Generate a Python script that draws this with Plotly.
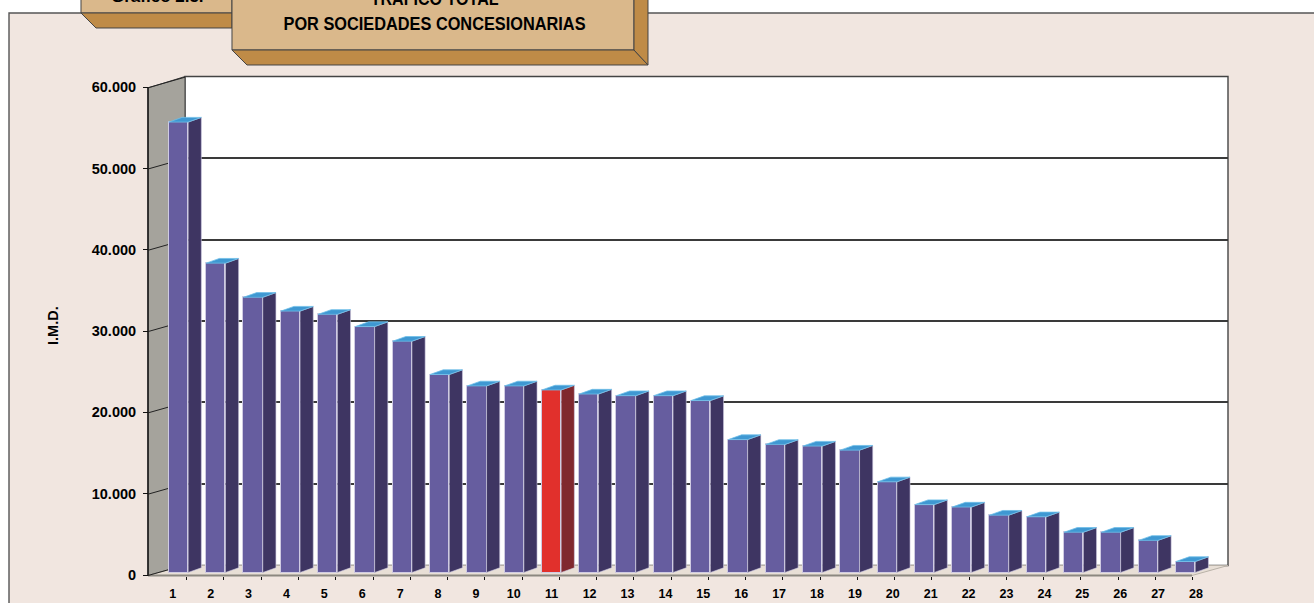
import plotly.graph_objects as go

categories = list(range(1, 29))
values = [55400, 38050, 33850, 32150, 31750, 30250, 28450, 24350, 22950, 22950,
          22450, 21950, 21750, 21750, 21150, 16350, 15750, 15550, 15050, 11150,
          8350, 8050, 7050, 6850, 4950, 4950, 3950, 1350]
highlight = 11
y_ticks = [0, 10000, 20000, 30000, 40000, 50000, 60000]
y_labels = ["0", "10.000", "20.000", "30.000", "40.000", "50.000", "60.000"]
grid_ticks = [10000, 20000, 30000, 40000, 50000]

W, H = 1314, 603
PXK = 8.13 / 1000          # px per unit
BAR_STEP = 37.3
FONT = "Liberation Sans"


def xp(px):
    return px / W


def yp(py):
    return 1 - py / H


def yrange(zero_px):
    return [-(H - zero_px) / PXK, zero_px / PXK]


def xrange_for(first_px, step):
    return [1 - first_px / step, 1 + (W - first_px) / step]


dx = 13.2 / BAR_STEP
dy = 4.7 / PXK
half = 0.5 * 19.3 / BAR_STEP

side_x, side_y, red_x, red_y, top_x, top_y = [], [], [], [], [], []
for c, v in zip(categories, values):
    r = c + half
    l = c - half
    sx = [r, r + dx, r + dx, r, r, None]
    sy = [0, dy, v + dy, v, 0, None]
    if c == highlight:
        red_x += sx
        red_y += sy
    else:
        side_x += sx
        side_y += sy
    top_x += [l, l + dx, r + dx, r, l, None]
    top_y += [v, v + dy, v + dy, v, v, None]

fig = go.Figure()
fig.add_trace(go.Scatter(x=[1], y=[0], mode="markers", marker=dict(opacity=0), xaxis="x", yaxis="y",
                         hoverinfo="skip", showlegend=False))
fig.add_trace(go.Bar(x=categories, y=values, width=2 * half, xaxis="x2", yaxis="y2",
                     marker=dict(color=["#E1302C" if c == highlight else "#665D9F" for c in categories],
                                 line=dict(color="#CFCBE2", width=1)),
                     showlegend=False))
fig.add_trace(go.Scatter(x=side_x, y=side_y, mode="lines", fill="toself", fillcolor="#3E3562",
                         line=dict(color="#CFCBE2", width=0.6), xaxis="x2", yaxis="y2", showlegend=False))
fig.add_trace(go.Scatter(x=red_x, y=red_y, mode="lines", fill="toself", fillcolor="#80282E",
                         line=dict(color="#CFCBE2", width=0.6), xaxis="x2", yaxis="y2", showlegend=False))
fig.add_trace(go.Scatter(x=top_x, y=top_y, mode="lines", fill="toself", fillcolor="#3F98D2",
                         line=dict(color="#6FBFE8", width=0.8), xaxis="x2", yaxis="y2", showlegend=False))
fig.add_trace(go.Scatter(x=[1], y=[0], mode="markers", marker=dict(opacity=0), xaxis="x3", yaxis="y3",
                         hoverinfo="skip", showlegend=False))
fig.add_trace(go.Scatter(x=[1], y=[0], mode="markers", marker=dict(opacity=0), xaxis="x4", yaxis="y3",
                         hoverinfo="skip", showlegend=False))

shapes = []


def poly(points, fill, line=None, width=1, layer="below"):
    path = "M " + " L ".join(f"{xp(a):.5f},{yp(b):.5f}" for a, b in points) + " Z"
    shapes.append(dict(type="path", path=path, xref="paper", yref="paper", fillcolor=fill, layer=layer,
                       line=dict(color=line or fill, width=width if line else 0)))


def seg(x0, y0, x1, y1, color="#333333", width=1.2, layer="below"):
    shapes.append(dict(type="line", x0=xp(x0), y0=yp(y0), x1=xp(x1), y1=yp(y1), xref="paper", yref="paper",
                       line=dict(color=color, width=width), layer=layer))


poly([(9, 13), (W + 5, 13), (W + 5, H + 5), (9, H + 5)], "#F1E6E0", "#555555", 1.4)
poly([(185, 76.5), (1228, 76.5), (1228, 565.5), (185, 565.5)], "#FFFFFF", "#444444", 1.4)
poly([(148, 88), (185, 76.5), (185, 565.5), (148, 575.5)], "#A5A39C", "#444444", 1)
poly([(148, 575.5), (185, 565.5), (1228, 565.5), (1192, 575.5)], "#E8DFD6", "#B9B2A8", 1)
seg(148, 575.5, 1192, 575.5, "#8C8880", 2)
seg(148, 88, 148, 575.5, "#111111", 1.4)
for t in y_ticks:
    ty = 575.5 - t * PXK
    seg(148, ty, 185, ty - 10.5, "#222222", 1)
poly([(81, -5), (232, -5), (232, 13), (81, 13)], "#DAB88B", "#444444", 1)
poly([(81, 13), (232, 13), (232, 28), (96, 28)], "#BF8B47", "#444444", 1)
poly([(232, -5), (634, -5), (634, 50), (232, 50)], "#DAB88B", "#444444", 1)
poly([(232, 50), (634, 50), (648, 65), (247, 65)], "#BF8B47", "#444444", 1)
poly([(634, -5), (648, -5), (648, 65), (634, 50)], "#BF8B47", "#444444", 1)

layout = dict(
    width=W, height=H, margin=dict(l=0, r=0, t=0, b=0), autosize=False,
    paper_bgcolor="white", plot_bgcolor="rgba(0,0,0,0)", showlegend=False,
    shapes=shapes, bargap=0,
    xaxis=dict(domain=[xp(185), xp(1228)], range=[0, 1], visible=True, showline=False, zeroline=False,
               showticklabels=False, ticks="", showgrid=False),
    yaxis=dict(domain=[0, 1], anchor="x", range=yrange(564.8), tickvals=grid_ticks, showgrid=True,
               gridcolor="#3A3A3A", gridwidth=1.6, showticklabels=False, ticks="", zeroline=False, showline=False),
    xaxis2=dict(domain=[0, 1], anchor="y2", range=xrange_for(178.5, BAR_STEP), visible=False),
    yaxis2=dict(domain=[0, 1], anchor="x2", range=yrange(572.5), visible=False),
    xaxis3=dict(domain=[0, 1], anchor="free", position=yp(584), overlaying="x2", range=xrange_for(172.7, 37.9),
                tickvals=categories, ticktext=[str(c) for c in categories], ticks="", ticklen=0,
                showgrid=False, zeroline=False, showline=False, tickangle=0,
                tickfont=dict(family=FONT, size=12.5, weight=700, color="#000000")),
    xaxis4=dict(domain=[0, 1], anchor="free", position=yp(575.5), overlaying="x2", range=xrange_for(186.7, 37.26),
                tickvals=categories, ticks="outside", ticklen=3, tickwidth=1, tickcolor="#111111",
                showticklabels=False, showgrid=False, zeroline=False, showline=False),
    yaxis3=dict(domain=[0, 1], anchor="free", position=xp(148), overlaying="y2", range=yrange(575),
                tickvals=y_ticks, ticktext=y_labels, ticks="outside", ticklen=5, tickwidth=1, tickcolor="#111111",
                ticklabelstandoff=4, showgrid=False, zeroline=False, showline=False, side="left",
                tickfont=dict(family=FONT, size=14.5, weight=700, color="#000000")),
    annotations=[
        dict(text="<b>I.M.D.</b>", x=xp(53), y=yp(326), xref="paper", yref="paper", textangle=-90, showarrow=False,
             xanchor="center", yanchor="middle", font=dict(family=FONT, size=14.5, color="#000000")),
        dict(text="<b>TRÁFICO TOTAL</b>", x=xp(434), y=yp(-2), xref="paper", yref="paper", showarrow=False,
             xanchor="center", yanchor="middle", font=dict(family=FONT, size=18, color="#000000")),
        dict(text="<b>POR SOCIEDADES CONCESIONARIAS</b>", x=xp(434), y=yp(24), xref="paper", yref="paper",
             showarrow=False, xanchor="center", yanchor="middle", font=dict(family=FONT, size=18, color="#000000")),
        dict(text="<b>Gráfico 2.5.</b>", x=xp(157), y=yp(-4), xref="paper", yref="paper", showarrow=False,
             xanchor="center", yanchor="middle", font=dict(family=FONT, size=17, color="#000000")),
    ],
)
fig.update_layout(**layout)
fig.update_traces(hoverinfo="skip")
post = """
document.body.style.margin='0';document.body.style.overflow='hidden';
var widths={'TRÁFICO TOTAL':128,'POR SOCIEDADES CONCESIONARIAS':302};
document.querySelectorAll('.annotation-text').forEach(function(t){
  var w=widths[t.textContent];
  if(w){t.setAttribute('textLength',w);t.setAttribute('lengthAdjust','spacingAndGlyphs');}
});
"""
fig.write_html("out.html", post_script=post, config=dict(displayModeBar=False))
